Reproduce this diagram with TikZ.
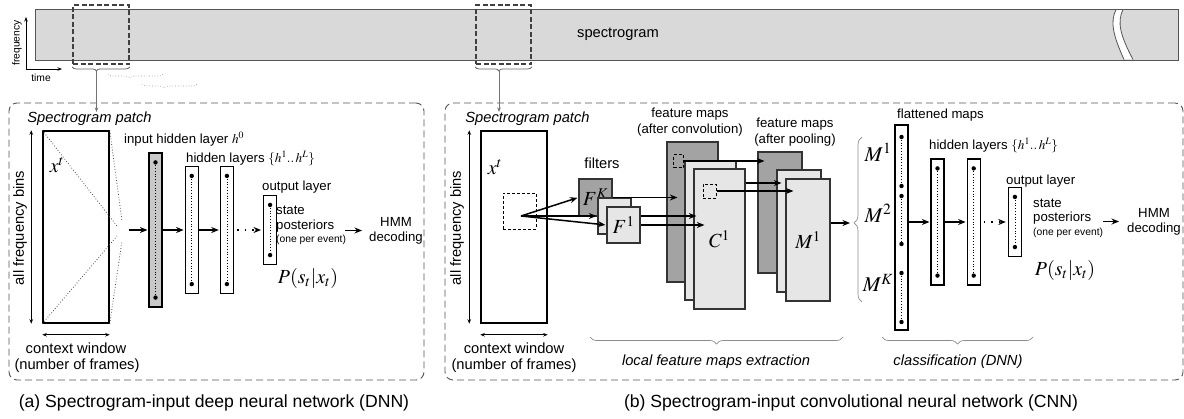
\documentclass[tikz,border=0pt]{standalone}
\usepackage{amsmath}
\usepackage{mathptmx}
\usepackage[no-math]{fontspec}
\setmainfont{Liberation Sans}
\usetikzlibrary{positioning, arrows.meta, calc, decorations.pathreplacing}
\definecolor{specgray}{HTML}{D9D9D9}
\definecolor{darkmap}{HTML}{A3A3A3}
\definecolor{lightmap}{HTML}{E6E6E6}
\definecolor{ingray}{HTML}{C8C8C8}
\definecolor{edgegray}{HTML}{555555}
\tikzset{
>={Stealth[length=4.5pt, width=3.5pt]}, % small heads for thin lines
flow/.style={-{Stealth[length=7.5pt, width=6pt]}, line width=1.5pt, shorten >=1pt}, % thick black arrows
flowdots/.style={flow, dash pattern=on 1.5pt off 6pt, shorten <=3pt, shorten >=2pt}, % the '. . >' arrows
feed/.style={->, line width=0.7pt, draw=black!55}, % from a spectrogram window down to a panel
axis/.style={->, line width=0.7pt}, % time / frequency axes
span/.style={<->, line width=0.7pt}, % size arrows round the patch
funnel/.style={dotted, line width=0.8pt, draw=black!70}, % patch folded into the input layer
lbl/.style={font=\fontsize{14.7}{16}\selectfont, inner sep=0pt},
ttl/.style={font=\fontsize{14.7}{16}\selectfont\itshape, inner sep=0pt},
mid/.style={font=\fontsize{13.2}{15}\selectfont, inner sep=0pt},
note/.style={font=\fontsize{10.3}{12}\selectfont, inner sep=0pt},
captxt/.style={font=\fontsize{17.6}{20}\selectfont, inner sep=0pt},
sym/.style={font=\fontsize{20}{22}\selectfont, inner sep=0pt},
specbar/.style={draw=edgegray, fill=specgray, line width=0.8pt, inner sep=0pt},
window/.style={draw=black!75, line width=1.8pt, dash pattern=on 5pt off 2.5pt, inner sep=0pt},
smallwin/.style={draw, line width=1pt, dash pattern=on 3pt off 2pt, inner sep=0pt},
panel/.style={draw=edgegray, line width=0.9pt, dash pattern=on 7pt off 4pt, rounded corners=8pt, inner sep=0pt},
patchbox/.style={draw, fill=white, line width=1.5pt, inner sep=0pt, minimum width=66pt, minimum height=192pt},
nnlayer/.style={draw, fill=white, line width=1.2pt, inner sep=0pt, minimum width=13pt},
mapbox/.style={draw=black!80, line width=1.2pt, inner sep=0pt, font=\fontsize{20}{22}\selectfont},
topbrace/.style={decorate, decoration={brace, mirror, amplitude=4pt, aspect=0.42}, draw=black!60, line width=0.8pt},
shiftbrace/.style={decorate, decoration={brace, mirror, amplitude=4pt, aspect=0.4}, draw=black!40, line width=0.7pt, dotted},
bottombrace/.style={decorate, decoration={brace, mirror, amplitude=7pt, aspect=0.5}, draw=black!45, line width=0.7pt},
sidebrace/.style={decorate, decoration={brace, amplitude=8pt, aspect=0.48}, draw=black!45, line width=0.7pt},
}

\begin{document}
\begin{tikzpicture}[x=1pt, y=-1pt]
\useasboundingbox (0,0) rectangle (1184,418);

% spectrogram strip
\node[specbar, minimum width=1143pt, minimum height=51pt] (spec) at (606.5,34.5) {};
\node[lbl] (spectxt) at (618,34) {spectrogram};
\fill[white] (1116,10) .. controls (1110,22) and (1113,35) .. (1124,59) -- (1133,59) .. controls (1120,35) and (1117,22) .. (1123,10) -- cycle;
\draw[edgegray, line width=0.8pt] (1116,9.5) .. controls (1110,22) and (1113,35) .. (1124,59.5)
  (1123,9.5) .. controls (1117,22) and (1120,35) .. (1133,59.5);

% axes
\coordinate (orig) at (26,69);
\coordinate (fup) at (26,17);
\coordinate (tright) at (62,69);
\draw[axis] (orig) -- (fup);
\draw[axis] (orig) -- (tright);
\node[note, rotate=90] (freqlbl) at (17,43) {frequency};
\node[note] (timelbl) at (41,78) {time};

% analysis windows
\node[window, minimum width=56pt, minimum height=59pt] (winA) at (101,34.5) {};
\node[window, minimum width=55pt, minimum height=59pt] (winB) at (503.5,34.5) {};
\draw[topbrace] ([yshift=-2pt]winA.south west) -- ([yshift=-2pt]winA.south east);
\draw[shiftbrace] (108,74) -- (163,74);
\draw[shiftbrace] (142,84) -- (197,84);
\draw[topbrace] ([yshift=-2pt]winB.south west) -- ([yshift=-2pt]winB.south east);
\coordinate (tipA) at (96.5,70);
\coordinate (tipB) at (499,70);

% panels
\node[panel, minimum width=415pt, minimum height=277pt] (panelA) at (216.5,241.5) {};
\node[panel, minimum width=738pt, minimum height=277pt] (panelB) at (814,241.5) {};
\node[captxt] (capA) at (214,403) {(a) Spectrogram-input deep neural network (DNN)};
\node[captxt] (capB) at (851,403) {(b) Spectrogram-input convolutional neural network (CNN)};

% (a) DNN
\node[ttl] (titleA) at (89.5,119) {Spectrogram patch};
\draw[feed] (tipA) -- (tipA |- titleA.north);
\node[patchbox] (patchA) at (76,227) {};
\node[sym] (xA) at (57,165) {$x^t$};
\draw[span] ([xshift=-11pt]patchA.north west) -- ([xshift=-11pt]patchA.south west);
\node[lbl, rotate=90] (binsA) at (20,228) {all frequency bins};
\draw[span] ([yshift=-11pt]patchA.south west) -- ([yshift=-11pt]patchA.south east);
\node[lbl] (ctxA) at (76,348) {context window};
\node[lbl] (nfA) at (77,366) {(number of frames)};
\coordinate (fa1) at (117,226);
\coordinate (fa2) at (122,221);
\coordinate (fa3) at (117,236);
\coordinate (fa4) at (122,241);
\draw[funnel] (patchA.north west) -- (fa1) (patchA.north east) -- (fa2)
  (patchA.south west) -- (fa3) (patchA.south east) -- (fa4);
\coordinate (fanout) at (129,230);

\node[nnlayer, fill=ingray, minimum height=154pt] (inA) at (155.5,230) {};
\node[nnlayer, minimum height=127pt, right=22pt of inA] (hA1) {};
\node[nnlayer, minimum height=127pt, right=21pt of hA1] (hA2) {};
\node[nnlayer, minimum height=69pt, right=29pt of hA2] (outA) {};
\draw[flow] (fanout) -- (inA.west);
\draw[flow] (inA) -- (hA1);
\draw[flow] (hA1) -- (hA2);
\draw[flowdots] (hA2) -- (outA);
\node[mid, anchor=west] (inlblA) at (124,139) {input hidden layer $h^0$};
\node[mid, anchor=west] (hidlblA) at (186,158) {hidden layers $\{h^1..\,h^L\}$};
\node[mid, anchor=west] (outlblA) at (262,187) {output layer};
\node[mid, anchor=west] (stA) at (276,210) {state};
\node[mid, anchor=west] (postA) at (276,226) {posteriors};
\node[note, anchor=west] (oneA) at (276,240) {(one per event)};
\node[mid, align=center] (hmmA) at (396,230.5) {HMM\\decoding};
\draw[flow] ([xshift=-24pt]hmmA.west) -- ([xshift=-6pt]hmmA.west);
\node[sym] (pA) at (308,278) {$P(s_t|x_t)$};

% (b) CNN
\node[ttl] (titleB) at (527.5,119) {Spectrogram patch};
\draw[feed] (tipB) -- (tipB |- titleB.north);
\node[patchbox] (patchB) at (514,227) {};
\node[sym] (xB) at (495,167) {$x^t$};
\draw[span] ([xshift=-11pt]patchB.north west) -- ([xshift=-11pt]patchB.south west);
\node[lbl, rotate=90] (binsB) at (457,228) {all frequency bins};
\draw[span] ([yshift=-11pt]patchB.south west) -- ([yshift=-11pt]patchB.south east);
\node[lbl] (ctxB) at (514,348) {context window};
\node[lbl] (nfB) at (514,366) {(number of frames)};
\node[smallwin, minimum width=33pt, minimum height=36pt] (winS) at (519.5,211) {};
\coordinate (src) at (521,216);

% filters
\node[lbl] (filtlbl) at (602,163) {filters};
\node[mapbox, fill=darkmap, minimum width=33pt, minimum height=37pt] (fK) at (595.5,197.5) {$F^K$};
\node[mapbox, fill=lightmap, minimum width=33pt, minimum height=36pt] (fM) at (614.5,216) {};
\node[mapbox, fill=lightmap, minimum width=33pt, minimum height=36pt] (f1) at (623.5,225) {$F^1$};
\draw[flow] (src) -- (fK.west);
\draw[flow] (src) -- (fM.west);
\draw[flow] (src) -- (f1.west);

% feature maps after convolution
\node[mid, align=center, font=\fontsize{13.2}{16}\selectfont] (convlbl) at (690,122) {feature maps\\(after convolution)};
\node[mapbox, fill=darkmap, minimum width=51pt, minimum height=140pt] (cK) at (692.5,212) {};
\node[mapbox, fill=lightmap, minimum width=51pt, minimum height=139pt] (cM) at (710.5,230.5) {};
\node[mapbox, fill=lightmap, minimum width=51pt, minimum height=140pt] (c1) at (719.5,239) {$C^1$};
\node[smallwin, minimum width=10pt, minimum height=13pt] (sqK) at (678.5,161) {};
\node[smallwin, minimum width=13pt, minimum height=14pt] (sq1) at (709.5,191) {};
\coordinate (sqM) at (700.5,183);

% feature maps after pooling
\node[mid, align=center, font=\fontsize{13.2}{16}\selectfont] (poollbl) at (795,132) {feature maps\\(after pooling)};
\node[mapbox, fill=darkmap, minimum width=44pt, minimum height=121pt] (pK) at (780,212.5) {};
\node[mapbox, fill=lightmap, minimum width=44pt, minimum height=122pt] (pM) at (799,231) {};
\node[mapbox, fill=lightmap, minimum width=44pt, minimum height=122pt] (p1) at (808,240) {$M^1$};

\draw[flow] (fK.east) -- ($(fK.east -| cK.west)+(12,0)$);
\draw[flow] (f1.east |- fM.east) -- ($(fM.east -| c1.west)+(4,0)$);
\draw[flow] (f1.east) -- ($(f1.east -| c1.west)+(12,0)$);
\draw[flow] (sqK.east) -- ($(sqK.east -| pK.west)+(8,0)$);
\draw[flow] (c1.east |- sqM) -- ($(sqM -| pM.west)+(6,0)$);
\draw[flow] (sq1.east) -- ($(sq1.east -| p1.west)+(9,0)$);

% flattening
\coordinate (bTip) at (851,223);
\draw[flow] (p1.east |- bTip) -- (bTip);
\draw[sidebrace] (862,302) -- (862,137);
\node[sym, font=\fontsize{21}{22}\selectfont] (mB1) at (878,152) {$M^1$};
\node[sym, font=\fontsize{21}{22}\selectfont] (mB2) at (878,213) {$M^2$};
\node[sym, font=\fontsize{21}{22}\selectfont] (mBK) at (878,283) {$M^K$};
\node[nnlayer, minimum height=205pt] (flat) at (901.5,227.5) {};
\node[mid, anchor=west] (flatlbl) at (897,115) {flattened maps};
\draw[dotted, line width=0.8pt] (901.5,137) -- (901.5,186) (901.5,196) -- (901.5,244) (901.5,273) -- (901.5,322);
\foreach \y in {137,186,196,244,273,322}
  \fill (901.5,\y) circle (2.2pt);

% classification
\node[nnlayer, minimum height=126pt] (hB1) at (937.5,222) {};
\node[nnlayer, minimum height=126pt, right=22pt of hB1] (hB2) {};
\node[nnlayer, minimum height=69pt, right=27pt of hB2] (outB) {};
\draw[flow] (flat.east |- hB1) -- (hB1.west);
\draw[flow] (hB1) -- (hB2);
\draw[flowdots] (hB2) -- (outB);
\node[mid, anchor=west] (hidlblB) at (929,145) {hidden layers $\{h^1..\,h^L\}$};
\node[mid, anchor=west] (outlblB) at (1006,181) {output layer};
\node[mid, anchor=west] (stB) at (1033,203) {state};
\node[mid, anchor=west] (postB) at (1033,218) {posteriors};
\node[note, anchor=west] (oneB) at (1033,233) {(one per event)};
\node[mid, align=center] (hmmB) at (1154,221.5) {HMM\\decoding};
\draw[flow] ([xshift=-24pt]hmmB.west) -- ([xshift=-7pt]hmmB.west);
\node[sym] (pB) at (1065,270) {$P(s_t|x_t)$};

\foreach \l in {inA, hA1, hA2, outA, hB1, hB2, outB} {
  \draw[dotted, line width=0.8pt] ([yshift=-10pt]\l.north) -- ([yshift=10pt]\l.south);
  \fill ([yshift=-10pt]\l.north) circle (2.2pt) ([yshift=10pt]\l.south) circle (2.2pt);
}

% stages
\draw[bottombrace] (590,337) -- (843,337);
\node[ttl] (locallbl) at (716,362) {local feature maps extraction};
\draw[bottombrace] (882,337) -- (1033,337);
\node[ttl] (clslbl) at (958,362) {classification (DNN)};
\end{tikzpicture}
\end{document}
